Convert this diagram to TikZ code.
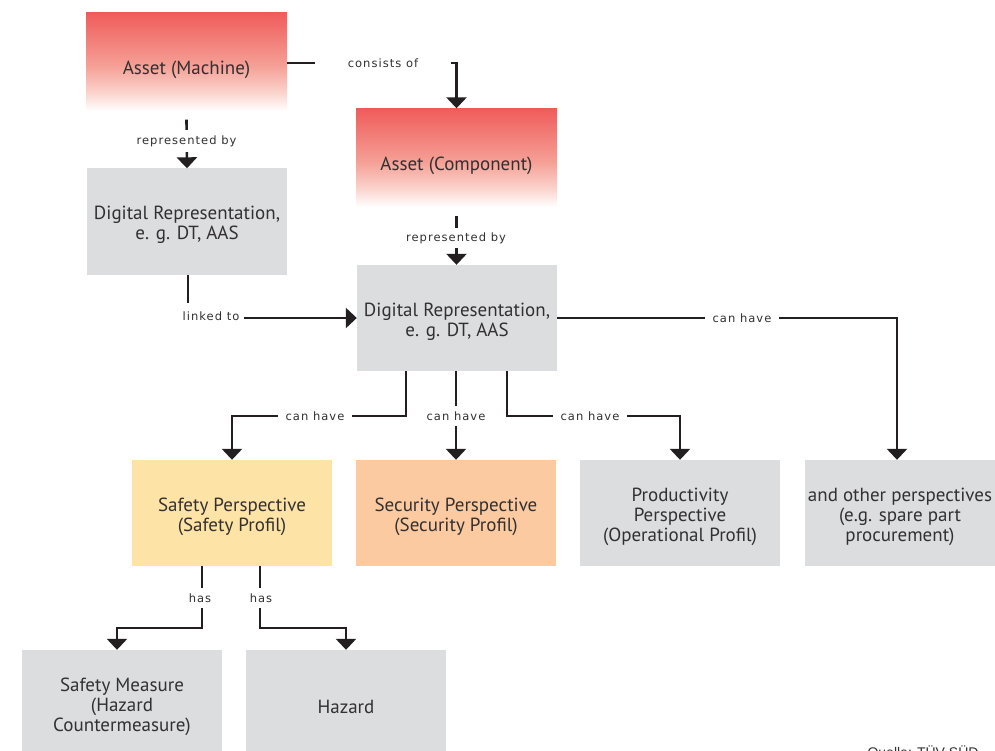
\documentclass[tikz,border=0pt]{standalone}
\usepackage{fontspec}
\setmainfont{PT Sans}
\newfontfamily\labelfont[LetterSpace=9]{DejaVu Sans}
\newfontfamily\srcfont{Liberation Sans}
\usetikzlibrary{arrows.meta,calc}
\definecolor{ink}{RGB}{35,31,32}
\definecolor{txt}{RGB}{50,48,48}
\definecolor{boxgray}{RGB}{220,221,222}
\definecolor{safetyc}{RGB}{254,227,166}
\definecolor{securityc}{RGB}{251,202,160}
\definecolor{redtop}{RGB}{239,92,90}
\definecolor{redmid}{RGB}{245,160,150}
\definecolor{redlow}{RGB}{250,212,205}
\pgfdeclareverticalshading{assetshade}{100bp}{color(0bp)=(white); color(25bp)=(white); color(29bp)=(white); color(37.5bp)=(redlow); color(50bp)=(redmid); color(75bp)=(redtop); color(100bp)=(redtop)}
\tikzset{
  btxt/.style={align=center, inner sep=0pt, yshift=-3.5pt, font=\fontsize{19}{20}\selectfont, text=txt},
  box/.style={minimum width=200pt, minimum height=106pt, inner sep=0pt, label={[btxt]center:{#1}}},
  graybox/.style={box={#1}, fill=boxgray},
  assetbox/.style={box={#1}, shading=assetshade, minimum width=201pt, minimum height=107pt},
  conn/.style={draw=ink, line width=2.6pt, -{Triangle[width=20pt,length=11pt]}},
  lbl/.style={fill=white, inner sep=0pt, font=\labelfont\fontsize{11.5}{12}\selectfont, text=txt}
}
\begin{document}
\begin{tikzpicture}[x=1pt,y=-1pt]
\useasboundingbox (0,0) rectangle (995,751);
% nodes
\node[assetbox={Asset (Machine)}] (am) at (186.5,66) {};
\node[assetbox={Asset (Component)}] (ac) at (456.5,162) {};
\node[graybox={Digital Representation,\\e. g. DT, AAS}] (dr1) at (187,221.5) {};
\node[graybox={Digital Representation,\\e. g. DT, AAS}] (dr2) at (457,318) {};
\node[box={Safety Perspective\\(Safety Profil)}, fill=safetyc] (saf) at (232,513) {};
\node[box={Security Perspective\\(Security Profil)}, fill=securityc] (sec) at (456,513) {};
\node[graybox={Productivity\\Perspective\\(Operational Profil)}] (prod) at (680,513) {};
\node[graybox={}] (oth) at (905,513) {};
\node[btxt] (othtxt) at (900,513) {and other perspectives\\(e.g. spare part\\procurement)};
\node[graybox={Safety Measure\\(Hazard\\Countermeasure)}] (sm) at (122,703) {};
\node[graybox={Hazard}] (hz) at (346,703) {};
\node[anchor=north west, font=\srcfont\fontsize{14}{16}\selectfont, text=txt] (src) at (864,742) {Quelle: TÜV SÜD};
% connectors
\draw[conn] ([yshift=3pt]am.east) -| (ac.north);
\node[lbl, minimum width=136pt, minimum height=14pt] (l1) at (383,63) {consists of};
\draw[conn] (am.south) -- (dr1.north);
\node[lbl, minimum height=22pt] (l2) at (186.5,141) {represented by};
\draw[conn] (ac.south) -- ([xshift=-0.5pt]dr2.north);
\node[lbl, minimum height=20pt] (l3) at (456,238) {represented by};
\draw[conn] ([xshift=1pt]dr1.south) |- (dr2.west);
\node[lbl, minimum width=66pt, minimum height=26pt, text depth=0pt] (l4) at (211,316) {linked to\hspace{4pt}};
\draw[conn] (dr2.east) -| ([xshift=-8pt]oth.north);
\node[lbl, minimum width=74pt, minimum height=14pt] (l5) at (742,318) {can have};
\draw[conn] ([xshift=-51pt]dr2.south) |- (232,416) -- (saf.north);
\node[lbl, minimum width=74pt, minimum height=14pt] (l6) at (315,416) {can have};
\draw[conn] ([xshift=-1pt]dr2.south) -- (sec.north);
\node[lbl, minimum height=20pt] (l7) at (456,416) {can have};
\draw[conn] ([xshift=50pt]dr2.south) |- (680,416) -- (prod.north);
\node[lbl, minimum width=74pt, minimum height=14pt] (l8) at (590,416) {can have};
\draw[conn] ([xshift=-30pt]saf.south) |- (117,628) -- ([xshift=-5pt]sm.north);
\node[lbl, minimum height=20pt] (l9) at (200,598) {has};
\draw[conn] ([xshift=28pt]saf.south) |- (346,628) -- (hz.north);
\node[lbl, minimum height=20pt] (l10) at (261,598) {has};
\end{tikzpicture}
\end{document}
